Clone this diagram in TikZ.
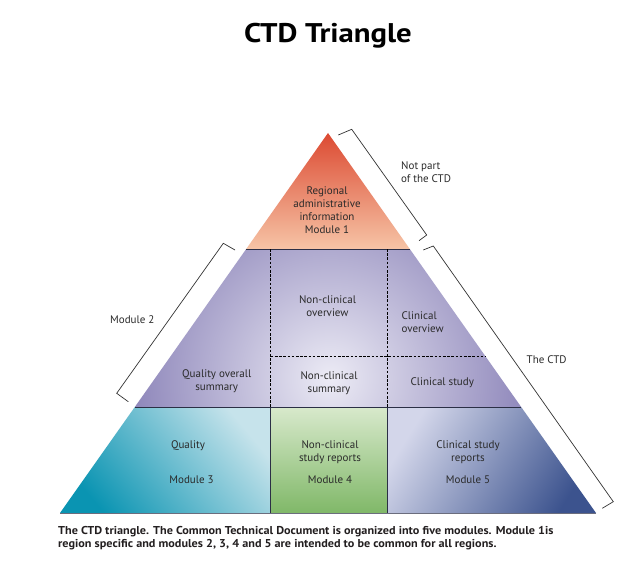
\documentclass[tikz,border=0pt]{standalone}
\usepackage{fontspec}
\setmainfont{PT Sans}
\definecolor{topred}{HTML}{DC4A32}
\definecolor{toppeach}{HTML}{F6C4A6}
\definecolor{midlight}{HTML}{ECEBF5}
\definecolor{middark}{HTML}{6C62A5}
\definecolor{qteal}{HTML}{0A94B2}
\definecolor{qlight}{HTML}{C6E3EB}
\definecolor{glight}{HTML}{D8E9CC}
\definecolor{gdark}{HTML}{80B868}
\definecolor{mvlight}{HTML}{D3D6EA}
\definecolor{mvdark}{HTML}{3C538E}
\definecolor{labelgray}{HTML}{2A2A2A}
\definecolor{linedark}{HTML}{2B2F45}
\definecolor{captiongray}{HTML}{231F20}
\begin{document}
\begin{tikzpicture}[x=1pt,y=-1pt,
  lbl/.style={font=\fontsize{11}{12.8}\selectfont, text=labelgray, align=center, inner sep=0pt},
  brk/.style={draw=black!80, line width=0.7pt, line join=miter},
  divider/.style={draw=linedark, line width=0.9pt},
  dashdiv/.style={draw=black, line width=0.6pt, dash pattern=on 2.6pt off 1.6pt}]
\useasboundingbox[fill=white] (0,0) rectangle (622,578);
% triangle geometry
\coordinate (A) at (328,133);
\coordinate (L) at (60,513);
\coordinate (R) at (596,513);
\coordinate (T1L) at (246.2,249);
\coordinate (T1R) at (409.8,249);
\coordinate (T2L) at (134.8,407);
\coordinate (T2R) at (521.2,407);
\coordinate (V1a) at (270.7,249);
\coordinate (V1b) at (270.7,407);
\coordinate (V1c) at (270.7,513);
\coordinate (V2a) at (387.7,249);
\coordinate (V2b) at (387.7,407);
\coordinate (V2c) at (387.7,513);
\coordinate (H1) at (270.7,356.7);
\coordinate (H2) at (485.8,356.7);
% tier 1
\shade[top color=topred, bottom color=toppeach] (A) -- (T1R) -- (T1L) -- cycle;
% tier 2
\begin{scope}
  \clip (T1L) -- (T1R) -- (T2R) -- (T2L) -- cycle;
  \shade[inner color=midlight, outer color=middark] (330,378) circle (270);
\end{scope}
% tier 3
\shade[top color=qlight, bottom color=qteal, shading angle=-50] (T2L) -- (V1b) -- (V1c) -- (L) -- cycle;
\shade[top color=glight, bottom color=gdark] (V1b) -- (V2b) -- (V2c) -- (V1c) -- cycle;
\shade[top color=mvlight, bottom color=mvdark, shading angle=58] (V2b) -- (T2R) -- (R) -- (V2c) -- cycle;
% dividers
\draw[divider] (T1L) -- (T1R);
\draw[divider] (T2L) -- (T2R);
\draw[divider] (V1b) -- (V1c);
\draw[divider] (V2b) -- (V2c);
\draw[draw=linedark!70, line width=0.8pt] (L) -- (R);
\draw[dashdiv] (V1a) -- (V1b);
\draw[dashdiv] (V2a) -- (V2b);
\draw[dashdiv] (H1) -- (H2);
% brackets
\draw[brk] (338.3,135) -- (351.7,129.3) -- (426.7,235) -- (419,240.7);
\draw[brk] (423.3,250) -- (433.3,246) -- (613.3,501.7) -- (602.3,508.3);
\draw[brk] (235,250) -- (223.3,243.3) -- (116.7,393.3) -- (128.3,401.7);
% labels
\node[font=\bfseries\fontsize{27}{30}\selectfont, text=black] (title) at (328,36) {\scalebox{1.14}[1]{CTD Triangle}};
\node[lbl] (reg) at (327,210.5) {Regional\\administrative\\information\\[0.6pt]Module 1};
\node[lbl, anchor=west, align=left] (np) at (401,172.5) {Not part\\of the CTD};
\node[lbl] (nco) at (327.5,306) {Non-clinical\\overview};
\node[lbl, anchor=west, align=left] (co) at (401.5,322) {Clinical\\overview};
\node[lbl] (qos) at (216.7,381) {Quality overall\\summary};
\node[lbl] (ncs) at (329,383) {Non-clinical\\summary};
\node[lbl] (cs) at (442.3,382.7) {Clinical study};
\node[lbl, anchor=west] (m2) at (110,320) {Module 2};
\node[lbl, anchor=west] (ctd) at (526.5,360) {The CTD};
\node[lbl] (q) at (188,446) {Quality};
\node[lbl] (m3) at (191.5,480) {Module 3};
\node[lbl] (ncsr) at (330,452.2) {Non-clinical\\study reports};
\node[lbl] (m4) at (330,480) {Module 4};
\node[lbl] (csr) at (468,452.2) {Clinical study\\reports};
\node[lbl] (m5) at (468,480) {Module 5};
\node[anchor=north west, align=left, inner sep=0pt, text=captiongray,
      font=\bfseries\fontsize{11.4}{12.4}\selectfont] (cap) at (58,526.5)
  {\scalebox{1.07}[1]{The CTD triangle. The Common Technical Document is organized into five modules. Module 1is}\\
   \scalebox{1.07}[1]{region specific and modules 2, 3, 4 and 5 are intended to be common for all regions.}};
\end{tikzpicture}
\end{document}
